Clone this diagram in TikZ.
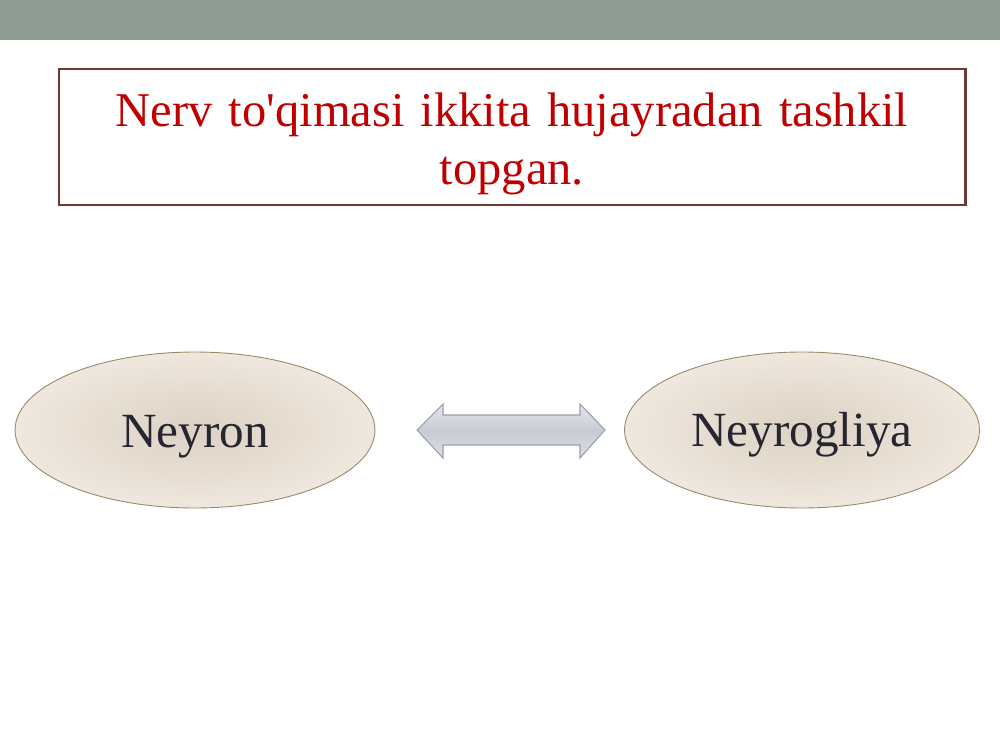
\documentclass[tikz,border=0pt]{standalone}
\usepackage{fontspec}
\setmainfont{Liberation Serif}[Ligatures=TeXOff]
\usetikzlibrary{shapes.geometric}
\definecolor{barcol}{HTML}{8F9C94}
\definecolor{boxedge}{HTML}{6E3A36}
\definecolor{titlered}{HTML}{C00000}
\definecolor{ellin}{HTML}{DCD1C4}
\definecolor{ellout}{HTML}{EFE8DE}
\definecolor{elledge}{HTML}{9C8668}
\definecolor{txtdark}{HTML}{262630}
\definecolor{arrtop}{HTML}{E4E7EC}
\definecolor{arrmid}{HTML}{C6CBD3}
\definecolor{arrbot}{HTML}{DDE0E6}
\definecolor{arredge}{HTML}{9A9FA8}
\tikzset{
  titlebox/.style={draw=boxedge, line width=1.7pt, fill=white},
  cellnode/.style={ellipse, draw=elledge, line width=0.5pt, inner sep=0pt,
    minimum width=7.2cm, minimum height=3.12cm,
    shading=radial, inner color=ellin, outer color=ellout},
  celltext/.style={anchor=base, inner sep=0pt, font=\fontsize{28}{32}\selectfont, text=txtdark},
  blockarrow/.style={draw=arredge, line width=0.6pt, top color=arrtop, bottom color=arrbot, middle color=arrmid}
}
\begin{document}
\begin{tikzpicture}[x=0.02cm,y=-0.02cm]
\useasboundingbox (0,0) rectangle (1000,750);
\fill[white] (0,0) rectangle (1000,750);
\fill[barcol] (0,0) rectangle (1000,40);
\draw[titlebox] (59,69) rectangle (965,205);
\node[text=titlered, font=\fontsize{27.6}{33}\selectfont, align=center, text width=17cm] (title) at (512,144) {Nerv to'qimasi ikkita hujayradan tashkil\\topgan.};
\node[cellnode] (neyron) at (195,430) {};
\node[celltext] (neyrontext) at (195,447) {Neyron};
\node[cellnode, minimum width=7.1cm] (glia) at (802,430) {};
\node[celltext] (gliatext) at (802,446) {Neyrogliya};
\draw[blockarrow] (417,430) -- (443,404) -- (443,415) -- (580,415) -- (580,404) -- (605,430) -- (580,458) -- (580,445) -- (443,445) -- (443,458) -- cycle;
\end{tikzpicture}
\end{document}
